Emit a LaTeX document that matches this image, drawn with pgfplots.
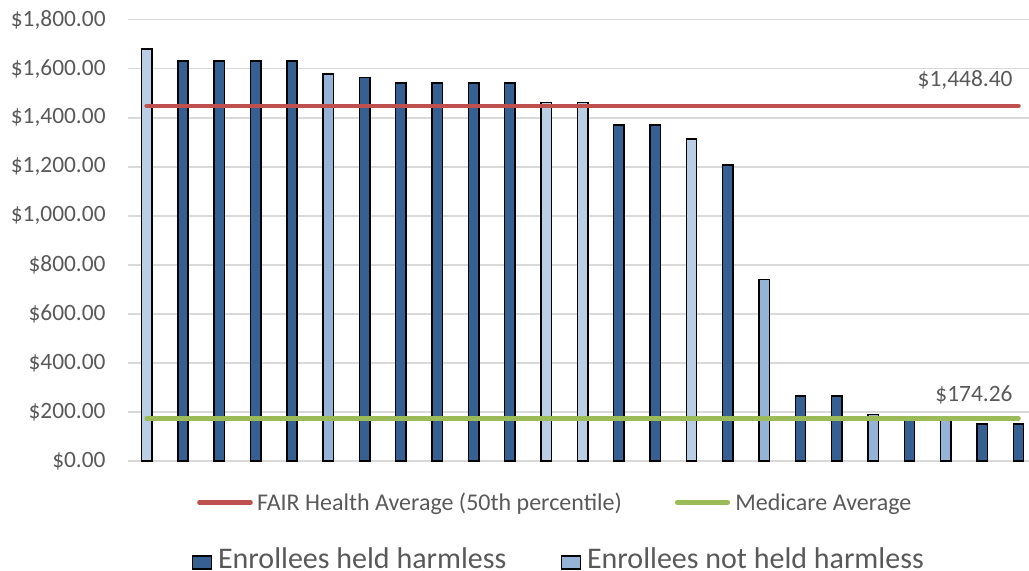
\documentclass[border=0pt]{standalone}
\usepackage{pgfplots}
\pgfplotsset{compat=1.18}
\usepackage{fontspec}
\setmainfont{Carlito}
\definecolor{darkb}{HTML}{376092}
\definecolor{lightb}{HTML}{B9CDE5}
\definecolor{medb}{HTML}{95B3D7}
\definecolor{redl}{HTML}{C0504D}
\definecolor{greenl}{HTML}{9BBB59}
\definecolor{txt}{HTML}{595959}
\definecolor{gridc}{HTML}{D9D9D9}
\begin{document}
\begin{tikzpicture}
\begin{axis}[
  at={(0,0)}, anchor=south west,
  width=450.25pt, height=220.65pt, scale only axis,
  xmin=-0.5, xmax=24.29, ymin=0, ymax=1800,
  ytick={0,200,...,1800},
  yticklabels={\$0.00,\$200.00,\$400.00,\$600.00,\$800.00,{\$1,000.00},{\$1,200.00},{\$1,400.00},{\$1,600.00},{\$1,800.00}},
  xtick=\empty,
  ymajorgrids, grid style={gridc, line width=0.75pt},
  axis line style={draw=none},
  major tick length=0pt,
  yticklabel style={font=\fontsize{11.7}{13}\selectfont, text=txt, anchor=east, inner sep=0pt, xshift=-11.25pt},
  clip=false,
]
% Enrollees held harmless (dark)
\addplot[ybar, bar width=5.2pt, bar shift=0pt, fill=darkb, draw=black, line width=0.75pt] coordinates {
(1,1632) (2,1632) (3,1632) (4,1632) (6,1565) (7,1542) (8,1542) (9,1542) (10,1542)
(13,1370) (14,1370) (16,1207) (18,265) (19,265) (21,175) (23,151) (24,151)};
% Enrollees not held harmless (medium)
\addplot[ybar, bar width=5.2pt, bar shift=0pt, fill=medb, draw=black, line width=0.75pt] coordinates {
(5,1578) (17,741) (20,190) (22,175)};
% Enrollees not held harmless (light)
\addplot[ybar, bar width=5.2pt, bar shift=0pt, fill=lightb, draw=black, line width=0.75pt] coordinates {
(0,1680) (11,1462) (12,1462) (15,1313)};
% Averages
\addplot[redl, line width=2.3pt, line cap=round] coordinates {(0,1448.40) (24,1448.40)};
\addplot[greenl, line width=2.3pt, line cap=round] coordinates {(0,174.26) (24,174.26)};
\node[anchor=base east, inner sep=0pt, font=\fontsize{11.7}{13}\selectfont, text=txt] at (axis cs:23.846,1448.40) [yshift=9.5pt] {\$1,448.40};
\node[anchor=base east, inner sep=0pt, font=\fontsize{11.7}{13}\selectfont, text=txt] at (axis cs:23.846,174.26) [yshift=8.15pt] {\$174.26};
\end{axis}
% legend
\draw[redl, line width=2.3pt, line cap=round] (35.5pt,-20.75pt) -- (61pt,-20.75pt);
\node[anchor=base west, inner sep=0pt, font=\fontsize{12}{14}\selectfont, text=txt] at (64.1pt,-24.85pt) {FAIR Health Average (50th percentile)};
\draw[greenl, line width=2.3pt, line cap=round] (274.4pt,-20.75pt) -- (299.6pt,-20.75pt);
\node[anchor=base west, inner sep=0pt, font=\fontsize{12}{14}\selectfont, text=txt] at (303.25pt,-24.85pt) {Medicare Average};
\filldraw[fill=darkb, draw=black, line width=0.75pt] (32.1pt,-47.5pt) rectangle (41.6pt,-54pt);
\node[anchor=base west, inner sep=0pt, font=\fontsize{15}{17}\selectfont, text=txt] at (44.6pt,-53.6pt) {Enrollees held harmless};
\filldraw[fill=medb, draw=black, line width=0.75pt] (216.6pt,-47.5pt) rectangle (226.1pt,-54pt);
\node[anchor=base west, inner sep=0pt, font=\fontsize{15}{17}\selectfont, text=txt] at (229.1pt,-53.6pt) {Enrollees not held harmless};
\pgfresetboundingbox
\path[use as bounding box] (-64.25pt,-55pt) rectangle (450.25pt,230.5pt);
\end{tikzpicture}
\end{document}
